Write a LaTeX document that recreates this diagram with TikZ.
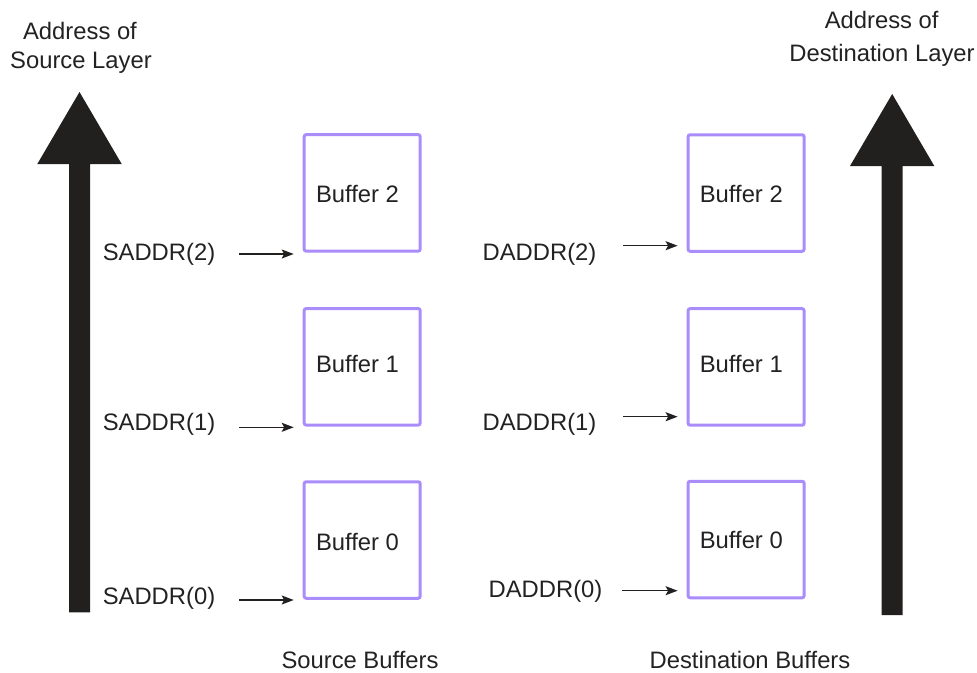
\documentclass[tikz,border=0pt]{standalone}
\usepackage{fontspec}
\setmainfont{Liberation Sans}
\usetikzlibrary{arrows.meta}
\definecolor{bufcol}{RGB}{170,140,250}
\definecolor{inkcol}{RGB}{34,32,30}
\definecolor{txtcol}{RGB}{34,34,34}
\tikzset{
  buf/.style={draw=bufcol, line width=3pt, rounded corners=2pt, minimum width=116pt, minimum height=116.5pt, inner sep=0pt},
  lbl/.style={anchor=base, inner sep=0pt, text=txtcol, font=\fontsize{23.8}{28}\selectfont},
  conn/.style={draw=inkcol, line width=1.3pt, -{Stealth[length=12pt,width=9pt,inset=2.5pt]}, shorten >=9pt},
  bigarrow/.style={fill=inkcol}
}
\begin{document}
\begin{tikzpicture}[x=1pt,y=-1pt]
\useasboundingbox (0,0) rectangle (977,672);
% big arrows
\fill[bigarrow] (69,612.3) -- (69,164) -- (37.3,164) -- (79.5,92) -- (121.7,164) -- (90,164) -- (90,612.3) -- cycle;
\fill[bigarrow] (881.5,615) -- (881.5,166) -- (850,166) -- (892.2,94) -- (934.3,166) -- (902.7,166) -- (902.7,615) -- cycle;
% top labels
\node[lbl] (srcA) at (80,39.3) {Address of};
\node[lbl] (srcB) at (81,68.3) {Source Layer};
\node[lbl] (dstA) at (881.7,28.3) {Address of};
\node[lbl] (dstB) at (882,61.7) {Destination Layer};
% source buffers
\node[buf] (s2) at (362.2,192.9) {};
\node[buf] (s1) at (362.2,366.8) {};
\node[buf] (s0) at (362.2,540) {};
\node[lbl] (s2t) at (357.5,202) {Buffer 2};
\node[lbl] (s1t) at (357.5,372.5) {Buffer 1};
\node[lbl] (s0t) at (357.5,550) {Buffer 0};
% destination buffers
\node[buf] (d2) at (746.1,193) {};
\node[buf] (d1) at (746.1,366.9) {};
\node[buf] (d0) at (746.1,539.5) {};
\node[lbl] (d2t) at (741.3,202.7) {Buffer 2};
\node[lbl] (d1t) at (741.3,372.3) {Buffer 1};
\node[lbl] (d0t) at (741.3,548) {Buffer 0};
% address labels
\node[lbl] (sa2) at (159,260) {SADDR(2)};
\node[lbl] (sa1) at (159,430) {SADDR(1)};
\node[lbl] (sa0) at (159,604) {SADDR(0)};
\node[lbl] (da2) at (539.5,260.7) {DADDR(2)};
\node[lbl] (da1) at (539.5,430.7) {DADDR(1)};
\node[lbl] (da0) at (545.5,597) {DADDR(0)};
% arrow start points
\coordinate (sa2s) at (239,254);
\coordinate (sa1s) at (239,427.3);
\coordinate (sa0s) at (239,600);
\coordinate (da2s) at (623,245.7);
\coordinate (da1s) at (623,416.7);
\coordinate (da0s) at (622,590.7);
\draw[conn] (sa2s) -- (s2.south west |- sa2s);
\draw[conn] (sa1s) -- (s1.south west |- sa1s);
\draw[conn] (sa0s) -- (s0.south west |- sa0s);
\draw[conn] (da2s) -- (d2.south west |- da2s);
\draw[conn] (da1s) -- (d1.south west |- da1s);
\draw[conn] (da0s) -- (d0.south west |- da0s);
% bottom labels
\node[lbl] (sb) at (360,668) {Source Buffers};
\node[lbl] (db) at (750,668) {Destination Buffers};
\end{tikzpicture}
\end{document}
